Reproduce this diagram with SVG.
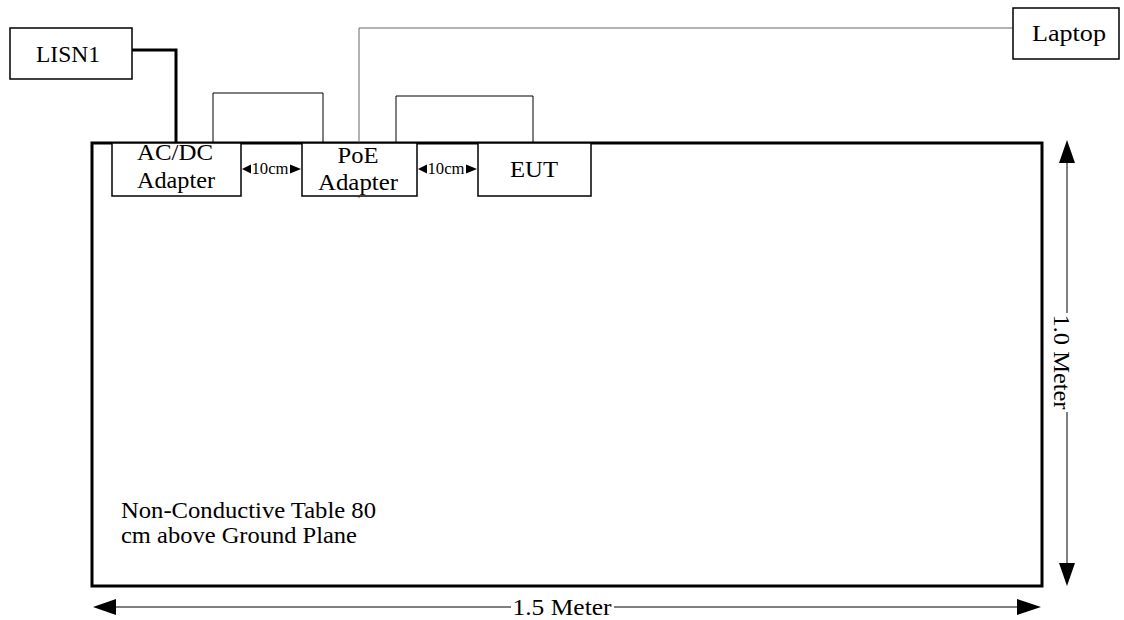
<svg xmlns="http://www.w3.org/2000/svg" width="1124" height="620" viewBox="0 0 1124 620">
<style>
.box{fill:#fff;stroke:#000;stroke-width:1.5}
.t{font-family:"Liberation Serif","Times New Roman",serif;fill:#000;font-size:24px}
.s{font-size:16px}
.thin{fill:none;stroke:#000;stroke-width:1}
.thick{fill:none;stroke:#000;stroke-width:3}
</style>
<rect width="1124" height="620" fill="#fff"/>
<g id="table">
<rect x="92" y="143" width="950" height="443" class="thick"/>
<text class="t" x="121" y="518" textLength="255" lengthAdjust="spacingAndGlyphs">Non-Conductive Table 80</text>
<text class="t" x="121" y="543" textLength="236" lengthAdjust="spacingAndGlyphs">cm above Ground Plane</text>
</g>
<g id="connectors">
<polyline points="132,50 176,50 176,143" class="thick"/>
<polyline points="213,143 213,93 323,93 323,143" class="thin"/>
<polyline points="396,143 396,96 533,96 533,143" class="thin"/>
<polyline points="359,143 359,28 1013,28" fill="none" stroke="#666" stroke-width="1"/>
<line x1="359" y1="190" x2="359" y2="198" stroke="#666" stroke-width="1"/>
</g>
<g id="lisn1">
<rect x="10" y="28" width="122" height="51" class="box"/>
<text class="t" x="68" y="62" text-anchor="middle" textLength="64" lengthAdjust="spacingAndGlyphs">LISN1</text>
</g>
<g id="laptop">
<rect x="1013" y="8" width="106" height="51" class="box"/>
<text class="t" x="1069" y="41" text-anchor="middle" textLength="74" lengthAdjust="spacingAndGlyphs">Laptop</text>
</g>
<g id="acdc">
<rect x="112" y="143" width="129" height="53" class="box"/>
<text class="t" x="175" y="160" text-anchor="middle" textLength="76" lengthAdjust="spacingAndGlyphs">AC/DC</text>
<text class="t" x="176" y="188" text-anchor="middle" textLength="78" lengthAdjust="spacingAndGlyphs">Adapter</text>
</g>
<g id="poe">
<rect x="302" y="143" width="115" height="53" class="box"/>
<text class="t" x="358" y="163" text-anchor="middle" textLength="41" lengthAdjust="spacingAndGlyphs">PoE</text>
<text class="t" x="358" y="190" text-anchor="middle" textLength="80" lengthAdjust="spacingAndGlyphs">Adapter</text>
</g>
<g id="eut">
<rect x="478" y="143" width="113" height="53" class="box"/>
<text class="t" x="534" y="177" text-anchor="middle" textLength="48" lengthAdjust="spacingAndGlyphs">EUT</text>
</g>
<g id="dim10a">
<polygon points="242,169 251,164.5 251,173.5" fill="#000"/>
<polygon points="301,169 290,164.5 290,173.5" fill="#000"/>
<text class="t s" x="270" y="174" text-anchor="middle" textLength="37" lengthAdjust="spacingAndGlyphs">10cm</text>
</g>
<g id="dim10b">
<polygon points="418,169 427,164.5 427,173.5" fill="#000"/>
<polygon points="477,169 466,164.5 466,173.5" fill="#000"/>
<text class="t s" x="446" y="174" text-anchor="middle" textLength="37" lengthAdjust="spacingAndGlyphs">10cm</text>
</g>
<g id="dim-v">
<line x1="1067" y1="160" x2="1067" y2="313" stroke="#000" stroke-width="1"/>
<line x1="1067" y1="412" x2="1067" y2="566" stroke="#000" stroke-width="1"/>
<polygon points="1067,140 1059,163 1075,163" fill="#000"/>
<polygon points="1067,586 1059,563 1075,563" fill="#000"/>
<text class="t" text-anchor="middle" transform="translate(1054,362) rotate(90)" textLength="95" lengthAdjust="spacingAndGlyphs">1.0 Meter</text>
</g>
<g id="dim-h">
<line x1="112" y1="607" x2="511" y2="607" stroke="#000" stroke-width="1"/>
<line x1="614" y1="607" x2="1020" y2="607" stroke="#000" stroke-width="1"/>
<polygon points="93,607 116,599 116,615" fill="#000"/>
<polygon points="1041,607 1017,599 1017,615" fill="#000"/>
<text class="t" x="562" y="615" text-anchor="middle" textLength="99" lengthAdjust="spacingAndGlyphs">1.5 Meter</text>
</g>
</svg>
